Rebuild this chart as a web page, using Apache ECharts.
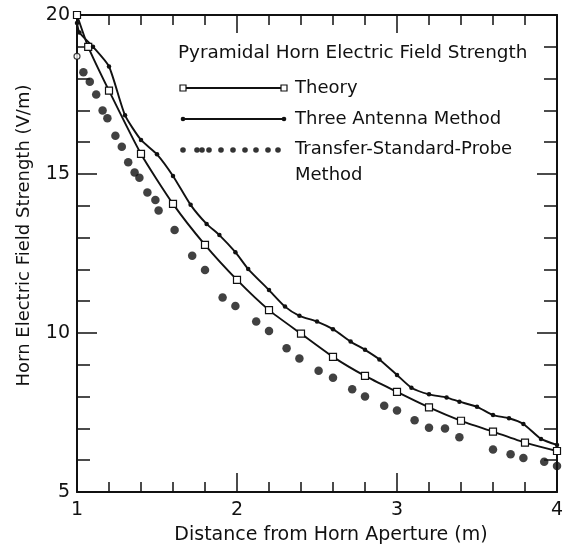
<!DOCTYPE html>
<html>
<head>
<meta charset="utf-8">
<script src="https://cdn.jsdelivr.net/npm/echarts@6/dist/echarts.min.js"></script>
<style>
html,body{margin:0;padding:0;background:#fff;}
#chart{width:570px;height:553px;}
</style>
</head>
<body>
<div id="chart"></div>
<script>
// ---- Data ----
const xTicks = [1, 2, 3, 4];
const yTicks = [5, 10, 15, 20];

const theory = [
  [1.0, 20.0], [1.07, 19.0], [1.2, 17.62], [1.4, 15.63], [1.6, 14.06], [1.8, 12.77],
  [2.0, 11.67], [2.2, 10.72], [2.4, 9.98], [2.6, 9.25], [2.8, 8.65], [3.0, 8.15],
  [3.2, 7.66], [3.4, 7.24], [3.6, 6.90], [3.8, 6.55], [4.0, 6.29]
];

const threeAntenna = [
  [1.0, 19.75], [1.015, 19.45], [1.1, 19.0], [1.2, 18.38], [1.3, 16.85], [1.4, 16.07],
  [1.5, 15.62], [1.6, 14.94], [1.71, 14.03], [1.81, 13.43], [1.89, 13.08], [1.99, 12.54],
  [2.07, 12.01], [2.2, 11.35], [2.3, 10.83], [2.39, 10.54], [2.5, 10.36], [2.6, 10.12],
  [2.71, 9.73], [2.8, 9.47], [2.89, 9.17], [3.0, 8.68], [3.09, 8.28], [3.2, 8.07],
  [3.31, 7.97], [3.39, 7.84], [3.5, 7.68], [3.6, 7.42], [3.7, 7.32], [3.79, 7.14],
  [3.9, 6.67], [4.0, 6.48]
];

const probe = [
  [1.0, 18.7], [1.04, 18.2], [1.08, 17.9], [1.12, 17.5], [1.16, 17.0], [1.19, 16.75],
  [1.24, 16.2], [1.28, 15.86], [1.32, 15.37], [1.36, 15.05], [1.39, 14.88], [1.44, 14.42],
  [1.49, 14.18], [1.51, 13.85], [1.61, 13.24], [1.72, 12.43], [1.80, 11.98], [1.91, 11.12],
  [1.99, 10.85], [2.12, 10.36], [2.20, 10.06], [2.31, 9.52], [2.39, 9.20], [2.51, 8.81],
  [2.60, 8.59], [2.72, 8.23], [2.80, 8.00], [2.92, 7.71], [3.0, 7.56], [3.11, 7.26],
  [3.20, 7.02], [3.30, 7.00], [3.39, 6.72], [3.60, 6.34], [3.71, 6.19], [3.79, 6.07],
  [3.92, 5.95], [4.0, 5.82]
];

const legendTitle = 'Pyramidal Horn Electric Field Strength';
const seriesNames = ['Theory', 'Three Antenna Method', 'Transfer-Standard-Probe\nMethod'];
const xName = 'Distance from Horn Aperture (m)';
const yName = 'Horn Electric Field Strength (V/m)';

// ---- Chart ----
const INK = '#111';
const FONT = '"DejaVu Sans", sans-serif';
const chart = echarts.init(document.getElementById('chart'), null, {renderer: 'canvas'});

function xAxisBase(pos, showLabel) {
  return {
    type: 'value', position: pos, min: 1, max: 4, interval: 1,
    axisLine: {show: true, onZero: false, lineStyle: {color: INK, width: 2}},
    axisTick: {show: true, inside: true, length: 19, lineStyle: {color: INK, width: 1.5}},
    minorTick: {show: true, splitNumber: 5, length: 10, lineStyle: {color: INK, width: 1.5}},
    splitLine: {show: false},
    axisLabel: {show: showLabel, color: INK, fontSize: 19, fontFamily: FONT, margin: 9,
      formatter: v => xTicks.includes(v) ? String(v) : ''}
  };
}
function yAxisBase(pos, showLabel) {
  return {
    type: 'value', position: pos, min: 5, max: 20, interval: 5,
    axisLine: {show: true, onZero: false, lineStyle: {color: INK, width: 2}},
    axisTick: {show: true, inside: true, length: 20, lineStyle: {color: INK, width: 1.5}},
    minorTick: {show: true, splitNumber: 5, length: 13, lineStyle: {color: INK, width: 1.5}},
    splitLine: {show: false},
    axisLabel: {show: showLabel, color: INK, fontSize: 19, fontFamily: FONT, margin: 7,
      formatter: v => yTicks.includes(v) ? String(v) : ''}
  };
}

const xMain = Object.assign(xAxisBase('bottom', true), {
  name: xName, nameLocation: 'middle', nameGap: 34,
  nameTextStyle: {color: INK, fontSize: 19, fontFamily: FONT, padding: [0, 0, 0, 28]}
});
const yMain = Object.assign(yAxisBase('left', true), {
  name: yName, nameLocation: 'middle', nameGap: 44,
  nameTextStyle: {color: INK, fontSize: 18, fontFamily: FONT, padding: [0, 0, 0, 36]}
});
const xTop = xAxisBase('top', false);
xTop.axisTick.length = 18;
const yRight = yAxisBase('right', false);

const LX1 = 183, LX2 = 284, LTX = 295;
const rowY = [88, 119, 150, 175];
const probeLegendX = [183, 197, 202, 209, 221, 233, 245, 256, 268, 278];

const graphics = [
  {type: 'text', x: 178, y: 53, style: {text: legendTitle, font: '18.4px ' + FONT, fill: INK, verticalAlign: 'middle'}},
  {type: 'line', shape: {x1: LX1, y1: rowY[0], x2: LX2, y2: rowY[0]}, style: {stroke: INK, lineWidth: 1.8}},
  {type: 'rect', shape: {x: LX1 - 3, y: rowY[0] - 3, width: 6, height: 6}, style: {fill: '#fff', stroke: INK, lineWidth: 1.2}},
  {type: 'rect', shape: {x: LX2 - 3, y: rowY[0] - 3, width: 6, height: 6}, style: {fill: '#fff', stroke: INK, lineWidth: 1.2}},
  {type: 'text', x: LTX, y: rowY[0], style: {text: seriesNames[0], font: '18px ' + FONT, fill: INK, verticalAlign: 'middle'}},
  {type: 'line', shape: {x1: LX1, y1: rowY[1], x2: LX2, y2: rowY[1]}, style: {stroke: INK, lineWidth: 1.8}},
  {type: 'circle', shape: {cx: LX1, cy: rowY[1], r: 2.3}, style: {fill: INK}},
  {type: 'circle', shape: {cx: LX2, cy: rowY[1], r: 2.3}, style: {fill: INK}},
  {type: 'text', x: LTX, y: rowY[1], style: {text: seriesNames[1], font: '18px ' + FONT, fill: INK, verticalAlign: 'middle'}},
  {type: 'text', x: LTX, y: rowY[2] - 1, style: {text: 'Transfer-Standard-Probe', font: '18px ' + FONT, fill: INK, verticalAlign: 'middle'}},
  {type: 'text', x: LTX, y: rowY[3], style: {text: 'Method', font: '18px ' + FONT, fill: INK, verticalAlign: 'middle'}}
];
probeLegendX.forEach(px => graphics.push({type: 'circle', shape: {cx: px, cy: rowY[2], r: 2.8}, style: {fill: '#333'}}));

chart.setOption({
  backgroundColor: '#fff',
  animation: false,
  grid: {left: 77, right: 13, top: 15, bottom: 61, containLabel: false},
  xAxis: [xMain, xTop],
  yAxis: [yMain, yRight],
  graphic: graphics,
  series: [
    {
      name: 'Theory', type: 'line', data: theory, smooth: 0.2,
      symbol: 'rect', symbolSize: 7, showAllSymbol: true,
      lineStyle: {color: INK, width: 1.9},
      itemStyle: {color: '#fff', borderColor: INK, borderWidth: 1.2},
      z: 3
    },
    {
      name: 'Three Antenna Method', type: 'line', data: threeAntenna, smooth: 0.2,
      symbol: 'circle', symbolSize: 4.5, showAllSymbol: true,
      lineStyle: {color: INK, width: 1.9},
      itemStyle: {color: INK},
      z: 3
    },
    {
      name: 'Transfer-Standard-Probe Method', type: 'scatter',
      data: probe.map((p, i) => i === 0
        ? {value: p, symbolSize: 6, itemStyle: {color: '#fff', borderColor: INK, borderWidth: 1.2}}
        : p),
      symbol: 'circle', symbolSize: 8.5,
      itemStyle: {color: INK},
      z: 2
    }
  ]
});
</script>
</body>
</html>
